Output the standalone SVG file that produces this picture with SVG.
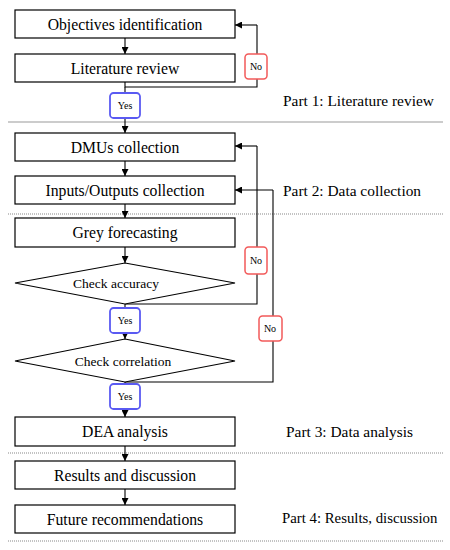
<svg xmlns="http://www.w3.org/2000/svg" width="450" height="550" viewBox="0 0 450 550">
<defs>
<marker id="ah" viewBox="0 0 10 10" refX="10" refY="5" markerWidth="7" markerHeight="7" orient="auto" markerUnits="userSpaceOnUse">
<path d="M0,0 L10,5 L0,10 z" fill="#000"/>
</marker>
<style>
.box{fill:#fff;stroke:#000;stroke-width:1.2}
.t{font-family:"Liberation Serif","DejaVu Serif",serif;font-size:15.7px;fill:#000;text-anchor:middle;dominant-baseline:central}
.d{font-size:13.5px}
.part{font-family:"Liberation Serif","DejaVu Serif",serif;font-size:15.4px;fill:#000;dominant-baseline:central}
.c{fill:none;stroke:#000;stroke-width:1.1}
.ca{fill:none;stroke:#000;stroke-width:1.1;marker-end:url(#ah)}
.no{fill:#fff;stroke:#f25a5a;stroke-width:1.5}
.yes{fill:#fff;stroke:#5a5af2;stroke-width:1.8}
.lbl{font-family:"Liberation Serif","DejaVu Serif",serif;font-size:10px;fill:#000;text-anchor:middle;dominant-baseline:central}
.sep{stroke:#999;stroke-width:1.2}
.dot{stroke:#888;stroke-width:1.2;stroke-dasharray:1 1}
</style>
</defs>
<g id="separators">
<line class="sep" x1="8" y1="122" x2="443" y2="122"/>
<line class="dot" x1="8" y1="214" x2="443" y2="214"/>
<line class="dot" x1="8" y1="453" x2="443" y2="453"/>
<line class="dot" x1="8" y1="541" x2="443" y2="541"/>
</g>
<g id="connectors">
<line class="ca" x1="125" y1="38" x2="125" y2="54"/>
<polyline class="c" points="125,82 125,87 257,87 257,25"/>
<line class="ca" x1="257" y1="25" x2="235" y2="25"/>
<line class="c" x1="125" y1="87" x2="125" y2="93"/>
<line class="ca" x1="125" y1="118" x2="125" y2="133"/>
<line class="ca" x1="125" y1="161" x2="125" y2="176"/>
<line class="ca" x1="125" y1="204" x2="125" y2="218"/>
<line class="ca" x1="125" y1="247" x2="125" y2="263"/>
<polyline class="c" points="125,304 257,304 257,146"/>
<line class="ca" x1="257" y1="146" x2="235" y2="146"/>
<line class="c" x1="125" y1="304" x2="125" y2="308"/>
<line class="ca" x1="125" y1="333" x2="125" y2="339"/>
<polyline class="c" points="125,382 273,382 273,190"/>
<line class="ca" x1="273" y1="190" x2="235" y2="190"/>
<line class="c" x1="125" y1="382" x2="125" y2="384"/>
<line class="ca" x1="125" y1="409" x2="125" y2="417"/>
<line class="ca" x1="125" y1="446" x2="125" y2="461"/>
<line class="ca" x1="125" y1="489" x2="125" y2="505"/>
</g>
<g id="n1"><rect class="box" x="15" y="10" width="220" height="28"/><text class="t" x="125" y="24">Objectives identification</text></g>
<g id="n2"><rect class="box" x="15" y="54" width="220" height="28"/><text class="t" x="125" y="68">Literature review</text></g>
<g id="no1"><rect class="no" x="245" y="54" width="22" height="25" rx="3.5"/><text class="lbl" x="256" y="66">No</text></g>
<g id="yes1"><rect class="yes" x="110" y="93" width="30" height="25" rx="3.5"/><text class="lbl" x="125" y="105">Yes</text></g>
<g id="n3"><rect class="box" x="15" y="133" width="220" height="28"/><text class="t" x="125" y="147">DMUs collection</text></g>
<g id="n4"><rect class="box" x="15" y="176" width="220" height="28"/><text class="t" x="125" y="190">Inputs/Outputs collection</text></g>
<g id="n5"><rect class="box" x="15" y="218" width="220" height="29"/><text class="t" x="125" y="232">Grey forecasting</text></g>
<g id="n6"><polygon class="box" points="125,263 235,283 125,304 15,283"/><text class="t d" x="116" y="283">Check accuracy</text></g>
<g id="no2"><rect class="no" x="245" y="247" width="22" height="27" rx="3.5"/><text class="lbl" x="256" y="260">No</text></g>
<g id="yes2"><rect class="yes" x="110" y="308" width="30" height="25" rx="3.5"/><text class="lbl" x="125" y="320">Yes</text></g>
<g id="n7"><polygon class="box" points="125,339 235,361 125,382 15,361"/><text class="t d" x="123" y="361">Check correlation</text></g>
<g id="no3"><rect class="no" x="259" y="316" width="23" height="25" rx="3.5"/><text class="lbl" x="270" y="328">No</text></g>
<g id="yes3"><rect class="yes" x="110" y="384" width="30" height="25" rx="3.5"/><text class="lbl" x="125" y="396">Yes</text></g>
<g id="n8"><rect class="box" x="15" y="417" width="220" height="29"/><text class="t" x="125" y="431">DEA analysis</text></g>
<g id="n9"><rect class="box" x="15" y="461" width="220" height="28"/><text class="t" x="125" y="475">Results and discussion</text></g>
<g id="n10"><rect class="box" x="15" y="505" width="220" height="28"/><text class="t" x="125" y="519">Future recommendations</text></g>
<g id="parts">
<text class="part" x="283" y="100">Part 1: Literature review</text>
<text class="part" x="283" y="190">Part 2: Data collection</text>
<text class="part" x="286" y="431">Part 3: Data analysis</text>
<text class="part" x="282" y="518" style="font-size:14.8px">Part 4: Results, discussion</text>
</g>
</svg>
